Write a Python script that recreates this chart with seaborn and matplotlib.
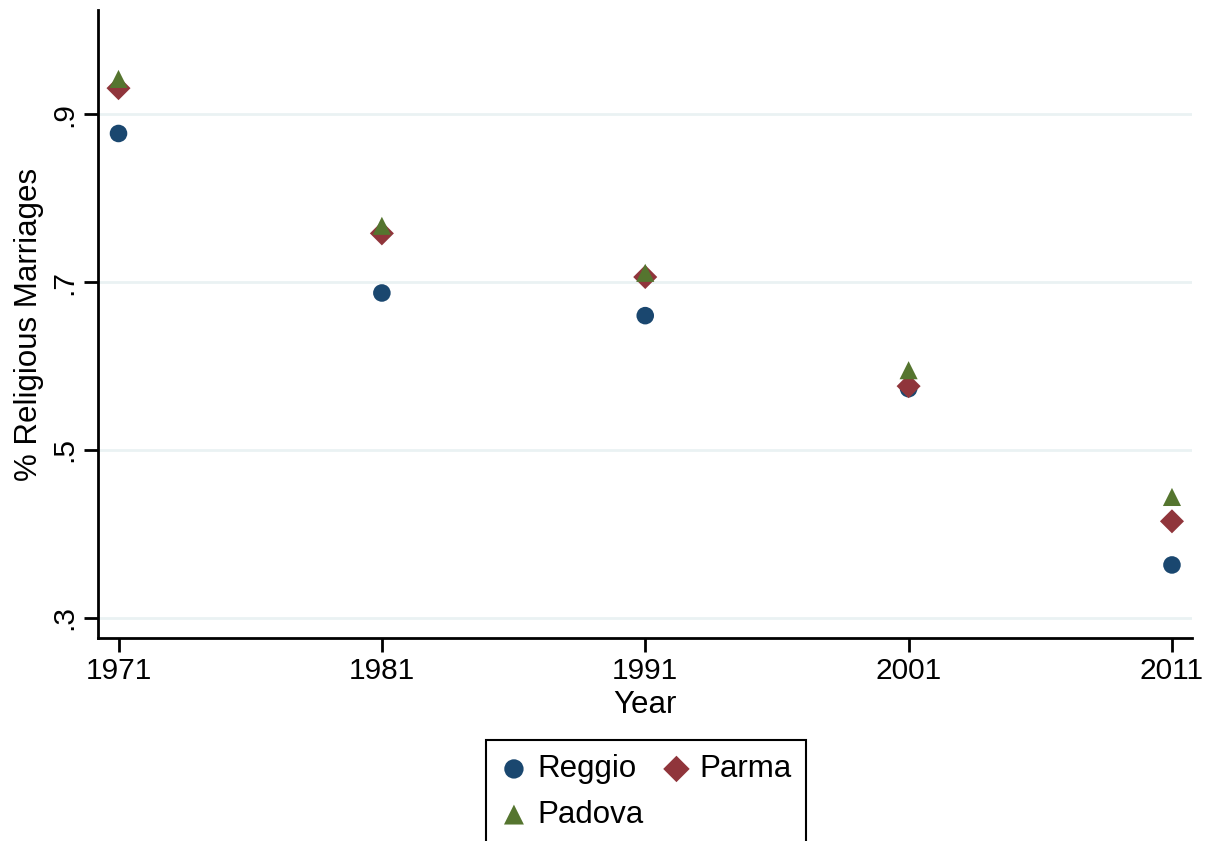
import pandas as pd
import matplotlib.pyplot as plt
import seaborn as sns

sns.set_theme(style="white")
plt.rcParams['font.family'] = ['Liberation Sans', 'DejaVu Sans']
plt.rcParams.update({'text.color': 'black', 'axes.labelcolor': 'black',
                     'xtick.color': 'black', 'ytick.color': 'black'})

# dados
anos = [1971, 1981, 1991, 2001, 2011]
reggio = [0.877, 0.687, 0.660, 0.573, 0.363]
parma = [0.931, 0.758, 0.706, 0.576, 0.415]
padova = [0.942, 0.767, 0.711, 0.595, 0.444]
cidades = ['Reggio', 'Parma', 'Padova']
cores = {'Reggio': '#1a476f', 'Parma': '#90353b', 'Padova': '#55752f'}
marcadores = {'Reggio': 'o', 'Parma': 'D', 'Padova': '^'}
tamanhos = {'Reggio': 160, 'Parma': 150, 'Padova': 170}

df = pd.DataFrame({
    'Year': anos * 3,
    'valor': reggio + parma + padova,
    'cidade': [c for c in cidades for _ in anos],
})

fig = plt.figure(figsize=(12.05, 8.41), dpi=100)
ax = fig.add_axes([0.0813, 0.2414, 0.9079, 0.7466])

for c in cidades:
    sub = df[df['cidade'] == c]
    sns.scatterplot(data=sub, x='Year', y='valor', color=cores[c], marker=marcadores[c],
                    s=tamanhos[c], edgecolor='none', label=c, ax=ax, zorder=3)

ax.set_xlim(1970.22, 2011.76)
ax.set_ylim(0.276, 1.024)
ax.set_xticks(anos)
ax.set_yticks([0.3, 0.5, 0.7, 0.9])
ax.set_yticklabels(['.3', '.5', '.7', '.9'], rotation=90, va='center')
ax.tick_params(axis='both', labelsize=21.5, length=10, width=2, color='black', direction='out',
               left=True, bottom=True, pad=4)
ax.grid(axis='y', color='#eaf2f3', linewidth=2)
for lado in ['top', 'right']:
    ax.spines[lado].set_visible(False)
for lado in ['left', 'bottom']:
    ax.spines[lado].set_color('black')
    ax.spines[lado].set_linewidth(2)

ax.set_xlabel('Year', fontsize=22.5, labelpad=3)
ax.set_ylabel('% Religious Marriages', fontsize=22.5, labelpad=5)

h, l = ax.get_legend_handles_labels()
ordem = [0, 2, 1]
ax.legend([h[i] for i in ordem], [l[i] for i in ordem], ncol=2, fontsize=22.5,
          loc='upper center', bbox_to_anchor=(646 / 1205, 0.12), bbox_transform=fig.transFigure,
          borderaxespad=0, frameon=True, fancybox=False, edgecolor='black', framealpha=1,
          handletextpad=0.3, columnspacing=0.6, borderpad=0.45, labelspacing=0.5,
          handlelength=0.9, markerscale=1.1)
ax.get_legend().get_frame().set_linewidth(1.5)

fig.savefig('out.png', dpi=100)
